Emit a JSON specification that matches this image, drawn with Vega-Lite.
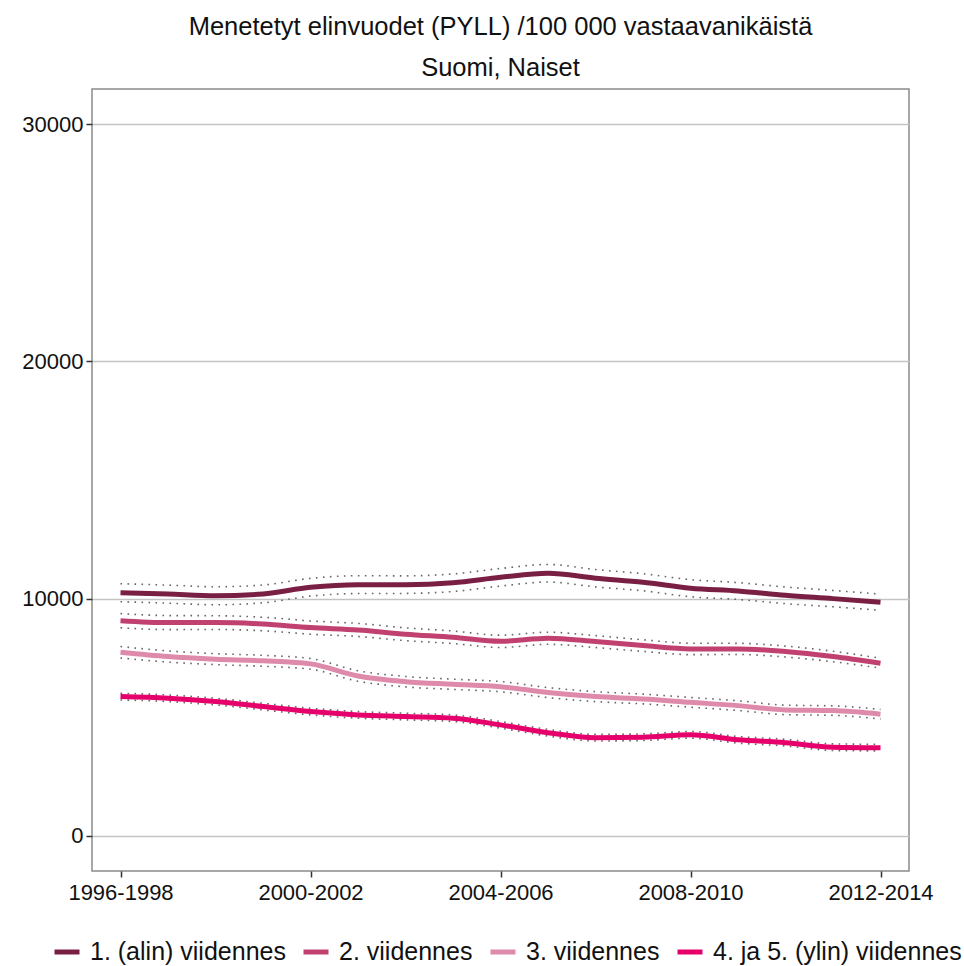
{
  "$schema": "https://vega.github.io/schema/vega-lite/v6.json",
  "autosize": {"type": "none"},
  "padding": {"left": 92, "top": 89, "right": 55, "bottom": 95},
  "width": 817,
  "height": 782,
  "background": "white",
  "config": {
    "font": "Liberation Sans",
    "view": {"stroke": "#8a8a8a", "strokeWidth": 1.5}
  },
  "title": {
    "text": ["Menetetyt elinvuodet (PYLL) /100 000 vastaavanikäistä", "Suomi, Naiset"],
    "fontSize": 25.5,
    "fontWeight": "normal",
    "color": "#111111",
    "lineHeight": 41,
    "offset": 8,
    "anchor": "middle"
  },
  "data": {
    "values": [
      {"period": "1996-1998", "group": "1. (alin) viidennes", "value": 10250, "lower": 9870, "upper": 10630},
      {"period": "1997-1999", "group": "1. (alin) viidennes", "value": 10190, "lower": 9810, "upper": 10570},
      {"period": "1998-2000", "group": "1. (alin) viidennes", "value": 10120, "lower": 9740, "upper": 10500},
      {"period": "1999-2001", "group": "1. (alin) viidennes", "value": 10200, "lower": 9825, "upper": 10575},
      {"period": "2000-2002", "group": "1. (alin) viidennes", "value": 10480, "lower": 10105, "upper": 10855},
      {"period": "2001-2003", "group": "1. (alin) viidennes", "value": 10590, "lower": 10215, "upper": 10965},
      {"period": "2002-2004", "group": "1. (alin) viidennes", "value": 10590, "lower": 10220, "upper": 10960},
      {"period": "2003-2005", "group": "1. (alin) viidennes", "value": 10670, "lower": 10300, "upper": 11040},
      {"period": "2004-2006", "group": "1. (alin) viidennes", "value": 10900, "lower": 10530, "upper": 11270},
      {"period": "2005-2007", "group": "1. (alin) viidennes", "value": 11070, "lower": 10700, "upper": 11440},
      {"period": "2006-2008", "group": "1. (alin) viidennes", "value": 10860, "lower": 10495, "upper": 11225},
      {"period": "2007-2009", "group": "1. (alin) viidennes", "value": 10690, "lower": 10330, "upper": 11050},
      {"period": "2008-2010", "group": "1. (alin) viidennes", "value": 10440, "lower": 10080, "upper": 10800},
      {"period": "2009-2011", "group": "1. (alin) viidennes", "value": 10320, "lower": 9965, "upper": 10675},
      {"period": "2010-2012", "group": "1. (alin) viidennes", "value": 10140, "lower": 9790, "upper": 10490},
      {"period": "2011-2013", "group": "1. (alin) viidennes", "value": 10000, "lower": 9655, "upper": 10345},
      {"period": "2012-2014", "group": "1. (alin) viidennes", "value": 9850, "lower": 9510, "upper": 10190},
      {"period": "1996-1998", "group": "2. viidennes", "value": 9070, "lower": 8770, "upper": 9370},
      {"period": "1997-1999", "group": "2. viidennes", "value": 8990, "lower": 8695, "upper": 9285},
      {"period": "1998-2000", "group": "2. viidennes", "value": 8990, "lower": 8700, "upper": 9280},
      {"period": "1999-2001", "group": "2. viidennes", "value": 8930, "lower": 8645, "upper": 9215},
      {"period": "2000-2002", "group": "2. viidennes", "value": 8780, "lower": 8500, "upper": 9060},
      {"period": "2001-2003", "group": "2. viidennes", "value": 8680, "lower": 8405, "upper": 8955},
      {"period": "2002-2004", "group": "2. viidennes", "value": 8500, "lower": 8230, "upper": 8770},
      {"period": "2003-2005", "group": "2. viidennes", "value": 8370, "lower": 8105, "upper": 8635},
      {"period": "2004-2006", "group": "2. viidennes", "value": 8200, "lower": 7940, "upper": 8460},
      {"period": "2005-2007", "group": "2. viidennes", "value": 8330, "lower": 8075, "upper": 8585},
      {"period": "2006-2008", "group": "2. viidennes", "value": 8190, "lower": 7940, "upper": 8440},
      {"period": "2007-2009", "group": "2. viidennes", "value": 8020, "lower": 7775, "upper": 8265},
      {"period": "2008-2010", "group": "2. viidennes", "value": 7880, "lower": 7640, "upper": 8120},
      {"period": "2009-2011", "group": "2. viidennes", "value": 7880, "lower": 7645, "upper": 8115},
      {"period": "2010-2012", "group": "2. viidennes", "value": 7770, "lower": 7540, "upper": 8000},
      {"period": "2011-2013", "group": "2. viidennes", "value": 7560, "lower": 7340, "upper": 7780},
      {"period": "2012-2014", "group": "2. viidennes", "value": 7280, "lower": 7070, "upper": 7490},
      {"period": "1996-1998", "group": "3. viidennes", "value": 7740, "lower": 7500, "upper": 7980},
      {"period": "1997-1999", "group": "3. viidennes", "value": 7560, "lower": 7325, "upper": 7795},
      {"period": "1998-2000", "group": "3. viidennes", "value": 7450, "lower": 7220, "upper": 7680},
      {"period": "1999-2001", "group": "3. viidennes", "value": 7380, "lower": 7150, "upper": 7610},
      {"period": "2000-2002", "group": "3. viidennes", "value": 7250, "lower": 7025, "upper": 7475},
      {"period": "2001-2003", "group": "3. viidennes", "value": 6740, "lower": 6520, "upper": 6960},
      {"period": "2002-2004", "group": "3. viidennes", "value": 6500, "lower": 6280, "upper": 6720},
      {"period": "2003-2005", "group": "3. viidennes", "value": 6390, "lower": 6175, "upper": 6605},
      {"period": "2004-2006", "group": "3. viidennes", "value": 6290, "lower": 6075, "upper": 6505},
      {"period": "2005-2007", "group": "3. viidennes", "value": 6040, "lower": 5830, "upper": 6250},
      {"period": "2006-2008", "group": "3. viidennes", "value": 5870, "lower": 5660, "upper": 6080},
      {"period": "2007-2009", "group": "3. viidennes", "value": 5770, "lower": 5565, "upper": 5975},
      {"period": "2008-2010", "group": "3. viidennes", "value": 5630, "lower": 5425, "upper": 5835},
      {"period": "2009-2011", "group": "3. viidennes", "value": 5490, "lower": 5285, "upper": 5695},
      {"period": "2010-2012", "group": "3. viidennes", "value": 5310, "lower": 5110, "upper": 5510},
      {"period": "2011-2013", "group": "3. viidennes", "value": 5280, "lower": 5080, "upper": 5480},
      {"period": "2012-2014", "group": "3. viidennes", "value": 5130, "lower": 4930, "upper": 5330},
      {"period": "1996-1998", "group": "4. ja 5. (ylin) viidennes", "value": 5870, "lower": 5730, "upper": 6010},
      {"period": "1997-1999", "group": "4. ja 5. (ylin) viidennes", "value": 5800, "lower": 5660, "upper": 5940},
      {"period": "1998-2000", "group": "4. ja 5. (ylin) viidennes", "value": 5660, "lower": 5520, "upper": 5800},
      {"period": "1999-2001", "group": "4. ja 5. (ylin) viidennes", "value": 5450, "lower": 5310, "upper": 5590},
      {"period": "2000-2002", "group": "4. ja 5. (ylin) viidennes", "value": 5240, "lower": 5100, "upper": 5380},
      {"period": "2001-2003", "group": "4. ja 5. (ylin) viidennes", "value": 5100, "lower": 4960, "upper": 5240},
      {"period": "2002-2004", "group": "4. ja 5. (ylin) viidennes", "value": 5030, "lower": 4890, "upper": 5170},
      {"period": "2003-2005", "group": "4. ja 5. (ylin) viidennes", "value": 4960, "lower": 4820, "upper": 5100},
      {"period": "2004-2006", "group": "4. ja 5. (ylin) viidennes", "value": 4680, "lower": 4540, "upper": 4820},
      {"period": "2005-2007", "group": "4. ja 5. (ylin) viidennes", "value": 4350, "lower": 4210, "upper": 4490},
      {"period": "2006-2008", "group": "4. ja 5. (ylin) viidennes", "value": 4140, "lower": 4000, "upper": 4280},
      {"period": "2007-2009", "group": "4. ja 5. (ylin) viidennes", "value": 4160, "lower": 4020, "upper": 4300},
      {"period": "2008-2010", "group": "4. ja 5. (ylin) viidennes", "value": 4260, "lower": 4120, "upper": 4400},
      {"period": "2009-2011", "group": "4. ja 5. (ylin) viidennes", "value": 4050, "lower": 3910, "upper": 4190},
      {"period": "2010-2012", "group": "4. ja 5. (ylin) viidennes", "value": 3930, "lower": 3790, "upper": 4070},
      {"period": "2011-2013", "group": "4. ja 5. (ylin) viidennes", "value": 3740, "lower": 3600, "upper": 3880},
      {"period": "2012-2014", "group": "4. ja 5. (ylin) viidennes", "value": 3720, "lower": 3580, "upper": 3860}
    ]
  },
  "encoding": {
    "x": {
      "field": "period",
      "type": "ordinal",
      "scale": {"type": "point", "padding": 0.6},
      "axis": {
        "title": null,
        "values": ["1996-1998", "2000-2002", "2004-2006", "2008-2010", "2012-2014"],
        "labelAngle": 0,
        "labelFontSize": 22,
        "labelColor": "#111111",
        "labelPadding": 5,
        "tickSize": 6,
        "tickColor": "#333333",
        "tickWidth": 1.5,
        "domain": false,
        "grid": false
      }
    },
    "y": {
      "type": "quantitative",
      "scale": {"domain": [-1480, 31480], "nice": false, "zero": false},
      "axis": {
        "title": null,
        "values": [0, 10000, 20000, 30000],
        "format": "d",
        "labelFontSize": 22,
        "labelColor": "#111111",
        "labelPadding": 3,
        "tickSize": 6,
        "tickColor": "#333333",
        "tickWidth": 1.5,
        "domain": false,
        "grid": true,
        "gridColor": "#c4c4c4",
        "gridWidth": 1.5
      }
    }
  },
  "layer": [
    {
      "mark": {"type": "line", "interpolate": "monotone", "color": "#666666", "strokeWidth": 1.6, "strokeDash": [1.6, 5.4]},
      "encoding": {"y": {"field": "upper"}, "detail": {"field": "group"}}
    },
    {
      "mark": {"type": "line", "interpolate": "monotone", "color": "#666666", "strokeWidth": 1.6, "strokeDash": [1.6, 5.4]},
      "encoding": {"y": {"field": "lower"}, "detail": {"field": "group"}}
    },
    {
      "mark": {"type": "line", "interpolate": "monotone", "strokeWidth": 5},
      "encoding": {
        "y": {"field": "value"},
        "color": {
          "field": "group",
          "type": "nominal",
          "scale": {
            "domain": ["1. (alin) viidennes", "2. viidennes", "3. viidennes", "4. ja 5. (ylin) viidennes"],
            "range": ["#7a1f44", "#c0416f", "#de8aab", "#e6006b"]
          },
          "legend": {
            "title": null,
            "orient": "none",
            "direction": "horizontal",
            "legendX": -40,
            "legendY": 848,
            "symbolType": "stroke",
            "symbolSize": 625,
            "symbolStrokeWidth": 5,
            "labelFontSize": 25,
            "labelColor": "#111111",
            "labelLimit": 400,
            "labelOffset": 8,
            "columnPadding": 7
          }
        }
      }
    }
  ]
}
